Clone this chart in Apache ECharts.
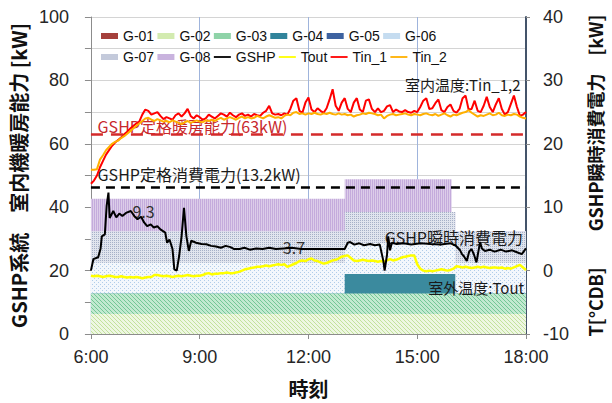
<!DOCTYPE html>
<html><head><meta charset="utf-8">
<script src="https://cdn.jsdelivr.net/npm/echarts@6/dist/echarts.min.js"></script>
<style>html,body{margin:0;padding:0;background:#fff}#c{width:612px;height:403px}</style>
</head><body><div id="c"></div>
<script>
// ---- data ----
// 5-minute sample times (minutes after midnight), 6:00 .. 18:00
const sampleTimes = [];
for (let m = 360; m <= 1080; m += 5) sampleTimes.push(m);
const xTickLabels = ['6:00', '9:00', '12:00', '15:00', '18:00'];

const tin1 = [13.7,14.2,15.0,16.3,17.3,18.3,19.0,19.7,20.2,20.6,
21.0,21.5,21.9,22.4,22.8,23.2,23.5,24.6,25.4,25.2,
24.6,24.8,25.0,24.4,23.9,24.2,24.0,23.8,24.5,24.8,
24.3,24.8,25.5,24.4,24.0,24.5,24.2,23.8,24.0,24.6,
24.3,24.0,24.4,24.8,24.6,24.3,24.9,24.5,24.2,24.6,
24.8,24.4,24.6,24.3,24.7,24.5,24.4,24.9,25.2,26.0,
24.8,24.6,24.7,24.5,24.8,24.6,25.5,26.8,27.2,25.2,
24.9,26.5,27.3,25.4,25.0,25.6,25.2,24.9,25.6,27.0,
28.6,26.0,25.2,26.5,27.2,25.5,25.0,26.5,27.2,25.4,
25.0,26.8,27.0,25.5,25.0,25.6,25.0,25.2,25.9,26.1,
25.0,25.4,25.1,25.0,25.3,25.0,24.9,25.2,25.0,25.8,
26.8,27.2,25.5,25.6,26.4,27.0,25.3,25.0,25.8,26.2,
25.2,24.9,25.5,27.2,27.6,25.4,25.5,26.8,25.2,25.0,
26.0,27.4,25.8,25.0,26.2,27.2,25.5,24.6,25.0,26.3,
27.6,25.8,24.4,24.6,25.0];

const tin2 = [15.9,15.9,16.0,17.5,18.2,19.0,19.5,20.0,20.3,20.5,
20.9,21.2,21.6,22.0,22.4,22.8,23.2,23.6,24.0,24.1,
23.8,23.6,23.9,23.7,23.5,23.6,23.4,23.7,23.5,23.3,
23.1,23.4,23.6,23.3,23.5,23.7,23.5,23.4,23.7,23.6,
23.8,23.6,23.9,24.1,23.8,24.0,24.2,24.0,23.8,24.1,
24.3,24.0,24.2,24.0,24.1,24.4,24.2,24.0,24.3,24.5,
24.3,24.1,24.2,24.0,24.4,24.6,24.5,24.9,25.0,24.7,
24.8,24.6,24.8,24.7,24.9,24.7,24.6,24.8,24.7,24.9,
24.7,24.6,24.8,24.6,24.7,24.5,24.6,24.3,24.5,24.6,
24.8,24.7,24.9,24.8,24.7,24.5,24.6,24.0,24.4,24.6,
24.7,24.5,24.6,24.7,24.8,24.6,24.5,24.7,24.6,24.5,
24.7,24.8,24.6,24.5,24.7,24.4,24.6,24.8,24.5,24.3,
24.6,24.5,24.7,24.9,25.0,25.3,24.9,24.6,24.3,24.5,
24.4,24.6,24.8,24.5,24.6,24.9,24.5,24.4,24.6,24.5,
24.7,24.6,24.3,24.1,24.0];

const tout = [-0.8,-0.9,-0.8,-0.9,-1.0,-0.9,-0.8,-0.9,-1.0,-1.0,
-0.9,-1.0,-1.1,-1.0,-1.1,-1.0,-1.1,-1.2,-1.1,-1.0,
-1.0,-0.7,-0.7,-0.8,-0.9,-0.8,-0.9,-1.0,-0.9,-0.8,
-0.9,-0.8,-0.7,-0.8,-0.9,-0.8,-0.8,-0.7,-0.5,-0.4,
-0.6,-0.5,-0.5,-0.4,-0.4,-0.3,-0.4,-0.4,-0.3,-0.2,
0.0,0.2,0.3,0.4,0.5,0.6,0.6,0.7,0.8,0.7,
0.8,0.9,1.0,0.9,1.0,0.6,0.8,1.0,1.2,1.5,
1.6,1.5,1.8,1.9,1.6,1.5,1.3,1.1,1.2,1.4,
1.6,1.7,1.9,2.2,2.3,2.4,2.0,1.6,1.5,1.6,
1.7,1.6,1.5,1.6,1.5,1.4,1.5,1.4,1.6,1.8,
1.6,1.7,1.9,2.1,2.2,2.3,2.4,2.4,1.0,0.3,
0.0,-0.1,0.0,-0.1,0.0,0.1,0.2,0.1,0.0,0.1,
0.3,0.7,0.6,0.5,0.6,0.5,0.4,0.5,0.6,0.5,
0.6,0.5,0.4,0.5,0.5,0.4,0.5,0.3,0.4,0.3,
0.5,0.7,0.9,0.5,0.1];

const gshpTimes = [360,364,372,376,378,383,386,389,391,397,402,407,412,418,426,432,437,443,448,453,459,464,470,475,483,486,490,495,498,502,506,510,514,518,522,526,534,543,551,559,567,575,583,591,597,606,614,623,634,644,655,666,679,692,708,728,752,780,785,789,796,804,812,822,830,838,844,846,850,852,855,858,866,877,890,906,922,939,955,963,971,974,977,982,986,990,994,998,1004,1007,1012,1020,1028,1038,1047,1057,1065,1073,1080];
const gshpPower = [0.0,1.8,2.1,3.5,5.4,5.7,10.2,12.3,8.3,9.4,8.4,9.0,8.6,9.1,9.4,8.6,8.1,8.5,7.6,7.0,7.3,6.8,7.0,6.5,6.0,4.4,4.9,3.4,0.2,0.0,2.3,5.4,9.9,5.4,3.1,4.7,4.4,4.2,4.15,3.9,3.8,3.6,3.9,3.7,3.4,3.4,3.6,3.3,3.5,3.4,3.6,3.4,3.5,3.6,3.4,3.4,3.4,3.4,4.4,4.5,4.1,4.3,4.0,4.2,4.0,4.1,1.5,0.0,2.5,5.4,3.2,4.4,4.2,4.3,4.1,4.3,4.2,4.1,4.3,4.0,3.2,2.6,2.3,1.5,3.0,3.4,2.5,1.3,4.5,3.5,3.1,3.3,3.0,3.3,3.0,3.2,2.9,2.6,3.5];

// indoor-unit heating capacity blocks [kW] (stacked); paired times give vertical edges
const bandTimes = [360, 780, 780, 957, 957, 963, 963, 1080];
const g01 = [0, 0, 0, 0, 0, 0, 0, 0];
const g02 = [6.3, 6.3, 6.3, 6.3, 6.3, 6.3, 6.3, 6.3];
const g03 = [6.5, 6.5, 6.5, 6.5, 6.5, 6.5, 6.5, 6.5];
const g04 = [0, 0, 6.1, 6.1, 6.1, 6.1, 0, 0];
const g05 = [0, 0, 0, 0, 0, 0, 0, 0];
const g06 = [9.7, 9.7, 9.7, 9.7, 9.7, 9.7, 9.7, 9.7];
const g07 = [9.9, 9.9, 9.9, 9.9, 9.9, 9.9, 9.9, 9.9];
const g08 = [10.3, 10.3, 10.3, 10.3, 0, 0, 0, 0];

const ratedHeating = 63;   // kW (left axis)
const ratedPower = 13.2;   // kW (right axis)
const avgLabels = [{t: 447, v: 9.4, text: '9.3'}, {t: 696, v: 3.7, text: '3.7'}];

// ---- helpers ----
function zip(a, b) { return a.map((t, i) => [t, b[i]]); }
function pattern(bg, fg, kind) {
  const c = document.createElement('canvas'); c.width = 4; c.height = 4;
  const x = c.getContext('2d');
  x.fillStyle = bg; x.fillRect(0, 0, 4, 4); x.fillStyle = fg;
  if (kind === 'diag') { for (let i = 0; i < 4; i++) x.fillRect(i, i, 1, 1); }
  if (kind === 'dots') { x.fillRect(0, 0, 1, 1); x.fillRect(2, 2, 1, 1); }
  if (kind === 'cross') { x.fillRect(0, 0, 1, 1); x.fillRect(2, 2, 1, 1); x.fillRect(2, 0, 1, 1); x.fillRect(0, 2, 1, 1); }
  if (kind === 'vert') { x.fillRect(0, 0, 1, 4); x.fillRect(2, 0, 1, 4); }
  return {image: c.toDataURL(), repeat: 'repeat', imageWidth: 4, imageHeight: 4};
}

const cjk = '"Noto Sans CJK JP", sans-serif';
const latin = '"Liberation Sans", Arial, sans-serif';
const lineIcon = 'path://M0,0L0,0M0,2.1L17,2.1L17,3.9L0,3.9ZM0,6L0,6';

// stacking order bottom -> top
const bandDefs = [
  {name: 'G-01', vals: g01, flat: '#a5403c', fill: null},
  {name: 'G-02', vals: g02, flat: '#d3ebb0', fill: pattern('#eef7e2', '#c2e29c', 'diag')},
  {name: 'G-03', vals: g03, flat: '#8fd3a8', fill: pattern('#c2e9d0', '#74c796', 'diag')},
  {name: 'G-04', vals: g04, flat: '#31849b', fill: '#3b8a9e'},
  {name: 'G-05', vals: g05, flat: '#3d62a0', fill: null},
  {name: 'G-06', vals: g06, flat: '#c5dcf0', fill: pattern('#f3f7fc', '#b0cce9', 'dots')},
  {name: 'G-07', vals: g07, flat: '#c4cadb', fill: pattern('#e1e5ee', '#a6b0c7', 'cross')},
  {name: 'G-08', vals: g08, flat: '#c9b3de', fill: pattern('#dccde9', '#c4abdc', 'vert')}
];
// cumulative tops; each band is filled down to 0 and covered by the bands below it
let running = bandTimes.map(() => 0);
const bandSeries = bandDefs.map(d => {
  running = running.map((r, i) => r + d.vals[i]);
  return {
    name: d.name, type: 'line', yAxisIndex: 0,
    data: zip(bandTimes, running.slice()), symbol: 'none', silent: true,
    itemStyle: {color: d.flat}, lineStyle: {width: 0, color: d.flat},
    areaStyle: d.fill ? {color: d.fill, opacity: 1, origin: 'start'} : {opacity: 0},
    z: 1
  };
}).reverse();   // top band drawn first

bandSeries[bandSeries.length - 1].markLine = {
  symbol: 'none', silent: true, label: {show: false},
  lineStyle: {color: '#d42a2a', type: [12, 8], width: 2.5},
  data: [{yAxis: ratedHeating}]
};

const series = bandSeries.concat([
  {name: 'GSHP', type: 'line', yAxisIndex: 1, data: zip(gshpTimes, gshpPower), symbol: 'none',
   lineStyle: {color: '#000', width: 2}, itemStyle: {color: '#000'}, z: 5,
   markLine: {symbol: 'none', silent: true, label: {show: false},
     lineStyle: {color: '#000', type: [9, 6], width: 2.5}, data: [{yAxis: ratedPower}]}},
  {name: 'Tout', type: 'line', yAxisIndex: 1, data: zip(sampleTimes, tout), symbol: 'none',
   lineStyle: {color: '#ffff00', width: 2.5}, itemStyle: {color: '#ffff00'}, z: 4},
  {name: 'Tin_1', type: 'line', yAxisIndex: 1, data: zip(sampleTimes, tin1), symbol: 'none',
   lineStyle: {color: '#ff0000', width: 2}, itemStyle: {color: '#ff0000'}, z: 4},
  {name: 'Tin_2', type: 'line', yAxisIndex: 1, data: zip(sampleTimes, tin2), symbol: 'none',
   lineStyle: {color: '#ffb000', width: 2}, itemStyle: {color: '#ffb000'}, z: 4}
]);

const legendCommon = {
  left: 101, itemWidth: 17, itemHeight: 6, itemGap: 3.3, padding: 0,
  textStyle: {fontFamily: latin, fontSize: 14, color: '#111', width: 48},
  selectedMode: false
};
const rectIcon = n => ({name: n, icon: 'rect'});
const lineItem = n => ({name: n, icon: lineIcon});

const chart = echarts.init(document.getElementById('c'), null, {renderer: 'svg'});
chart.setOption({
  animation: false,
  backgroundColor: '#fff',
  grid: {left: 88, right: 79, top: 17, bottom: 68},
  legend: [
    Object.assign({}, legendCommon, {top: 29,
      data: ['G-01','G-02','G-03','G-04','G-05','G-06'].map(rectIcon)}),
    Object.assign({}, legendCommon, {top: 50,
      data: [rectIcon('G-07'), rectIcon('G-08')].concat(['GSHP', 'Tout', 'Tin_1', 'Tin_2'].map(lineItem))})
  ],
  xAxis: {
    type: 'value', min: 360, max: 1080, interval: 180,
    axisLine: {lineStyle: {color: '#8c8c8c', width: 1}},
    axisTick: {show: true, length: 5, lineStyle: {color: '#8c8c8c'}},
    axisLabel: {fontFamily: latin, fontSize: 18, color: '#262626', margin: 14,
      formatter: v => xTickLabels[Math.round((v - 360) / 180)]},
    splitLine: {show: true, lineStyle: {color: '#9fb4dc', width: 1}},
    name: '時刻', nameLocation: 'middle', nameGap: 44,
    nameTextStyle: {fontFamily: cjk, fontSize: 20, fontWeight: 'bold', color: '#111'}
  },
  yAxis: [
    {type: 'value', min: 0, max: 100, interval: 20, position: 'left',
     axisLine: {show: true, lineStyle: {color: '#8c8c8c'}},
     axisTick: {show: true, length: 6, lineStyle: {color: '#8c8c8c'}},
     minorTick: {show: true, splitNumber: 2, length: 6, lineStyle: {color: '#8c8c8c'}},
     axisLabel: {fontFamily: latin, fontSize: 18, color: '#262626', margin: 22},
     splitLine: {show: true, lineStyle: {color: '#d4d4d4'}},
     minorSplitLine: {show: true, lineStyle: {color: '#d4d4d4'}},
     name: 'GSHP系統　室内機暖房能力 [kW]', nameLocation: 'middle', nameRotate: 90, nameGap: 61,
     nameTextStyle: {fontFamily: cjk, fontSize: 20, fontWeight: 'bold', color: '#111'}},
    {type: 'value', min: -10, max: 40, interval: 10, position: 'right',
     axisLine: {show: true, lineStyle: {color: '#44546a', width: 2}},
     axisTick: {show: true, length: 4, lineStyle: {color: '#8c8c8c'}},
     axisLabel: {fontFamily: latin, fontSize: 18, color: '#262626', margin: 17},
     splitLine: {show: false},
     name: 'T[°CDB]　　GSHP瞬時消費電力　[kW]', nameLocation: 'middle', nameRotate: 90, nameGap: 60,
     nameTextStyle: {fontFamily: cjk, fontSize: 18, fontWeight: 'bold', color: '#111'}}
  ],
  series
});

// annotations placed in data coordinates
function px(t, v, axis) { return chart.convertToPixel({xAxisIndex: 0, yAxisIndex: axis}, [t, v]); }
const annot = [
  {text: '室内温度:Tin_1,2', pos: px(1071, 29.4, 1), align: 'right', color: '#1a1a1a', size: 15},
  {text: 'GSHP定格暖房能力(63kW)', pos: px(371, 65.5, 0), align: 'left', color: '#c8282d', size: 16},
  {text: 'GSHP定格消費電力(13.2kW)', pos: px(371, 15.3, 1), align: 'left', color: '#1a1a1a', size: 16},
  {text: 'GSHP瞬時消費電力', pos: px(1075, 5.3, 1), align: 'right', color: '#1a1a1a', size: 16},
  {text: '室外温度:Tout', pos: px(1077, -2.7, 1), align: 'right', color: '#1a1a1a', size: 15}
].concat(avgLabels.map(a => ({text: a.text, pos: px(a.t, a.v, 1), align: 'center', color: '#333', size: 16})));

chart.setOption({
  graphic: annot.map(a => ({
    type: 'text', x: a.pos[0], y: a.pos[1], z: 3, silent: true,
    style: {text: a.text, fill: a.color, font: a.size + 'px ' + cjk, align: a.align, verticalAlign: 'middle'}
  }))
});
</script>
</body></html>
